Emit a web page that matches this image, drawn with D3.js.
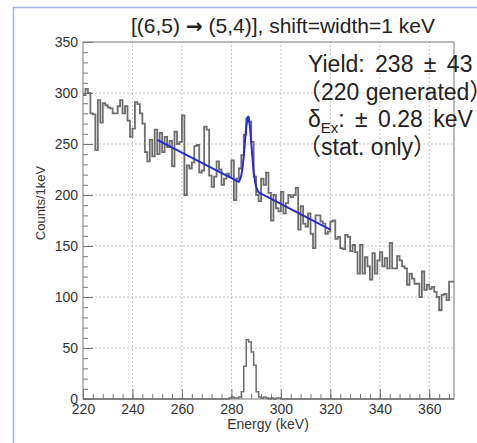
<!DOCTYPE html>
<html>
<head>
<meta charset="utf-8">
<title>Yield fit</title>
<script src="https://d3js.org/d3.v7.min.js"></script>
<style>
  body { margin: 0; background: #fff; }
  svg { display: block; font-family: "Liberation Sans", Arial, "Noto Sans CJK JP", sans-serif; }
  .grid line { stroke: #c4c4c4; stroke-dasharray: 2,2; }
  .axis path, .axis line { stroke: #777; }
  .axis text { font-size: 14px; fill: #333; }
</style>
</head>
<body>
<div id="chart"></div>
<script>
// spectrum, 1 keV bins starting at 220 keV
var binStart = 220;
var counts = [
  298, 304, 300, 280, 279, 244, 293, 271, 290, 288,
  286, 285, 280, 280, 287, 293, 280, 287, 273, 257,
  265, 291, 289, 280, 270, 242, 233, 254, 238, 264,
  240, 261, 242, 257, 247, 253, 228, 262, 250, 252,
  278, 200, 229, 226, 232, 248, 249, 222, 224, 267,
  264, 219, 208, 218, 233, 225, 210, 216, 221, 218,
  234, 195, 216, 226, 239, 259, 275, 272, 252, 218,
  200, 194, 216, 210, 222, 202, 175, 200, 187, 184,
  203, 182, 192, 200, 198, 200, 207, 166, 189, 172,
  169, 182, 162, 148, 180, 180, 174, 172, 162, 164,
  174, 175, 157, 159, 148, 147, 161, 159, 145, 151,
  144, 123, 151, 123, 139, 130, 117, 143, 123, 136,
  144, 130, 138, 128, 153, 128, 128, 140, 136, 130,
  128, 112, 123, 118, 113, 113, 100, 125, 107, 112,
  108, 110, 105, 100, 87, 102, 103, 97, 115, 115
];
// generated signal (same binning), nonzero bins only
var signalE = [279, 280, 281, 282, 283, 284, 285, 286, 287, 288, 289, 290, 291, 292, 293, 294, 296, 298, 299];
var signalC = [1, 2, 1, 1, 2, 7, 32, 58, 56, 46, 33, 7, 2, 1, 2, 1, 1, 1, 1];

// fit curve (linear background + peak)
var fitE = [250, 282, 283, 283.5, 284, 284.5, 285, 285.5, 286, 286.5, 286.8, 287, 287.5, 288, 288.5, 289, 289.5, 290, 290.5, 291, 320];
var fitC = [254, 214, 213, 215.5, 219, 227, 238, 253, 267, 275, 277, 276, 267, 252, 237, 223, 214, 208, 205, 202.5, 166];

var xTicks = [220, 240, 260, 280, 300, 320, 340, 360];
var yTicks = [0, 50, 100, 150, 200, 250, 300, 350];
var xMinor = d3.range(220, 371, 4);
var yMinor = d3.range(0, 351, 10);

var titleA = "[(6,5) ", titleArrow = "\u2192", titleB = " (5,4)], shift=width=1 keV";
var infoLines = ["Yield: 238 \u00b1 43", "\uff08220 generated\uff09", ": \u00b1 0.28 keV", "\uff08stat. only\uff09"];

var W = 477, H = 443;
var svg = d3.select("#chart").append("svg").attr("width", W).attr("height", H);

// slide border
svg.append("path")
   .attr("d", "M13.5,443 L13.5,7.5 L477,7.5")
   .attr("fill", "none")
   .attr("stroke", "#9fb4dc")
   .attr("stroke-width", 1.5);

var x = d3.scaleLinear().domain([220, 370]).range([83, 454]);
var y = d3.scaleLinear().domain([0, 350]).range([399, 42]);

// grid
var grid = svg.append("g").attr("class", "grid");
grid.selectAll(".gx").data(xTicks.slice(1)).enter().append("line")
    .attr("x1", function(d) { return x(d); }).attr("x2", function(d) { return x(d); })
    .attr("y1", y(0)).attr("y2", y(350));
grid.selectAll(".gy").data(yTicks.slice(1, -1)).enter().append("line")
    .attr("y1", function(d) { return y(d); }).attr("y2", function(d) { return y(d); })
    .attr("x1", x(220)).attr("x2", x(370));

// frame
svg.append("rect")
   .attr("x", x(220)).attr("y", y(350))
   .attr("width", x(370) - x(220)).attr("height", y(0) - y(350))
   .attr("fill", "none").attr("stroke", "#777");

// axes (ticks point inward)
svg.append("g").attr("class", "axis")
   .attr("transform", "translate(0," + y(0) + ")")
   .call(d3.axisBottom(x).tickValues(xMinor).tickSizeInner(-5).tickSizeOuter(0).tickFormat(""));
svg.append("g").attr("class", "axis")
   .attr("transform", "translate(0," + y(0) + ")")
   .call(d3.axisBottom(x).tickValues(xTicks).tickSizeInner(-10).tickSizeOuter(0).tickPadding(5));
svg.append("g").attr("class", "axis")
   .attr("transform", "translate(" + x(220) + ",0)")
   .call(d3.axisLeft(y).tickValues(yMinor).tickSizeInner(-5).tickSizeOuter(0).tickFormat(""));
svg.append("g").attr("class", "axis")
   .attr("transform", "translate(" + x(220) + ",0)")
   .call(d3.axisLeft(y).tickValues(yTicks).tickSizeInner(-10).tickSizeOuter(0).tickPadding(5));
svg.selectAll(".axis .domain").remove();

// histograms
var step = d3.line()
    .x(function(d) { return x(d[0]); })
    .y(function(d) { return y(d[1]); })
    .curve(d3.curveStepAfter);

var spec = counts.map(function(c, i) { return [binStart + i, c]; });
spec.push([binStart + counts.length, counts[counts.length - 1]]);
svg.append("path")
   .datum(spec)
   .attr("d", step)
   .attr("fill", "none")
   .attr("stroke", "#6e6e6e")
   .attr("stroke-width", 1.8);

var sig = counts.map(function(c, i) {
    var k = signalE.indexOf(binStart + i);
    return [binStart + i, k < 0 ? 0 : signalC[k]];
});
sig.push([binStart + counts.length, 0]);
svg.append("path")
   .datum(sig)
   .attr("d", step)
   .attr("fill", "none")
   .attr("stroke", "#6e6e6e")
   .attr("stroke-width", 1.5);

// fit
svg.append("path")
   .datum(fitE.map(function(e, i) { return [e, fitC[i]]; }))
   .attr("d", d3.line()
        .x(function(d) { return x(d[0]); })
        .y(function(d) { return y(d[1]); }))
   .attr("fill", "none")
   .attr("stroke", "#2b2bd0")
   .attr("stroke-width", 2)
   .attr("stroke-linejoin", "round");

// texts
var t = svg.append("text")
   .attr("x", 283).attr("y", 33)
   .attr("text-anchor", "middle")
   .attr("font-size", "21px").attr("fill", "#222");
t.append("tspan").text(titleA);
t.append("tspan").attr("font-family", "DejaVu Sans").attr("font-weight", "bold").attr("font-size", "20px").text(titleArrow);
t.append("tspan").text(titleB);

svg.append("text")
   .attr("x", 268).attr("y", 429)
   .attr("text-anchor", "middle")
   .attr("font-size", "14px").attr("fill", "#333")
   .text("Energy (keV)");

svg.append("text")
   .attr("transform", "translate(45,203) rotate(-90)")
   .attr("text-anchor", "middle")
   .attr("font-size", "13px").attr("fill", "#333")
   .text("Counts/1keV");

var info = svg.append("g").attr("font-size", "23px").attr("fill", "#222").attr("word-spacing", "4px");
info.append("text").attr("x", 308).attr("y", 72).text(infoLines[0]);
info.append("text").attr("x", 298).attr("y", 100).attr("word-spacing", "0px").text(infoLines[1]);
var dl = info.append("text").attr("x", 308).attr("y", 127);
dl.append("tspan").text("\u03b4");
dl.append("tspan").attr("font-size", "15px").attr("dy", 6).text("Ex");
dl.append("tspan").attr("dy", -6).text(infoLines[2]);
info.append("text").attr("x", 298).attr("y", 155).attr("word-spacing", "0px").text(infoLines[3]);
</script>
</body>
</html>
